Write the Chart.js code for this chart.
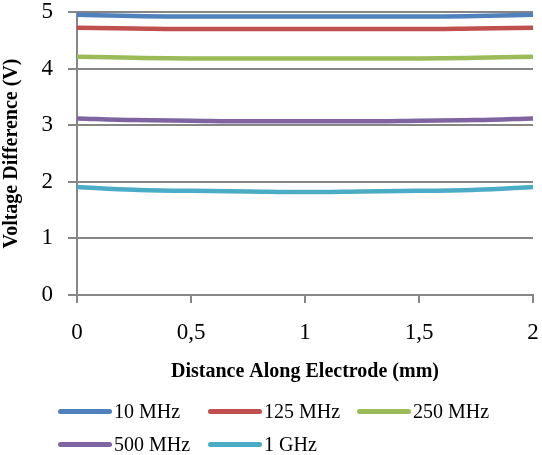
<!DOCTYPE html>
<html>
<head>
<meta charset="utf-8">
<script src="https://cdn.jsdelivr.net/npm/chart.js@4/dist/chart.umd.min.js"></script>
<style>
  html, body { margin: 0; padding: 0; background: #fff; }
  #wrap { position: relative; width: 542px; height: 455px; }
  #chartCanvas { position: absolute; left: 0; top: 0; }
  #legend { position: absolute; left: 58px; top: 399px; width: 480px;
            display: grid; grid-template-columns: 150px 149px 149px; row-gap: 9px;
            font-family: "Liberation Serif", "Times New Roman", serif; font-size: 20px; color: #000; }
  .item { display: flex; align-items: center; height: 24px; white-space: nowrap; }
  .swatch { width: 54px; height: 5px; border-radius: 3px; margin-right: 2px; }
</style>
</head>
<body>
<div id="wrap">
  <canvas id="chartCanvas" width="542" height="400"></canvas>
  <div id="legend"></div>
</div>
<script>
// values
var distance = [0, 0.25, 0.5, 0.75, 1, 1.25, 1.5, 1.75, 2];
var seriesNames = ['10 MHz', '125 MHz', '250 MHz', '500 MHz', '1 GHz'];
var v10MHz  = [4.95, 4.93, 4.92, 4.92, 4.92, 4.92, 4.92, 4.93, 4.95];
var v125MHz = [4.72, 4.71, 4.70, 4.70, 4.70, 4.70, 4.70, 4.71, 4.72];
var v250MHz = [4.21, 4.19, 4.18, 4.18, 4.18, 4.18, 4.18, 4.19, 4.21];
var v500MHz = [3.12, 3.09, 3.08, 3.07, 3.07, 3.07, 3.08, 3.09, 3.12];
var v1GHz   = [1.91, 1.86, 1.84, 1.83, 1.82, 1.83, 1.84, 1.86, 1.91];
var yTicks = [0, 1, 2, 3, 4, 5];
var xTicks = [0, 0.5, 1, 1.5, 2];

var colors = ['#4f81bd', '#c0504d', '#9bbb59', '#8064a2', '#4bacc6'];
var allValues = [v10MHz, v125MHz, v250MHz, v500MHz, v1GHz];
var gridGray = '#868686';
var serif = '"Liberation Serif", "Times New Roman", serif';

var datasets = [];
for (var i = 0; i < seriesNames.length; i++) {
    var pts = [];
    for (var j = 0; j < distance.length; j++) {
        pts.push({x: distance[j], y: allValues[i][j]});
    }
    datasets.push({
        label: seriesNames[i],
        data: pts,
        borderColor: colors[i],
        backgroundColor: colors[i],
        borderWidth: 4.5,
        pointRadius: 0,
        tension: 0.4,
        cubicInterpolationMode: 'monotone',
        fill: false
    });
}

var chart = new Chart(document.getElementById('chartCanvas'), {
    type: 'line',
    data: { datasets: datasets },
    options: {
        responsive: false,
        animation: false,
        layout: { padding: { top: 12, right: 9, bottom: 14, left: 0 } },
        plugins: { legend: { display: false }, tooltip: { enabled: false } },
        scales: {
            x: {
                type: 'linear', min: 0, max: 2,
                afterBuildTicks: function (s) { s.ticks = xTicks.map(function (v) { return {value: v}; }); },
                afterFit: function (s) {
                    s.height = 91;
                    // the end labels may overhang, plot edges are fixed by layout padding
                    s.paddingLeft = 0; s.paddingRight = 0;
                },
                grid: { drawOnChartArea: false, drawTicks: true, tickLength: 8, color: gridGray, lineWidth: 2 },
                border: { display: true, color: gridGray, width: 2 },
                ticks: {
                    padding: 18, color: '#000',
                    font: { family: serif, size: 23, lineHeight: 1 },
                    callback: function (v) { return String(v).replace('.', ','); }
                },
                title: {
                    display: true, text: 'Distance Along Electrode (mm)', color: '#000',
                    font: { family: serif, size: 20, weight: 'bold' }, padding: { top: 0, bottom: 2 }
                }
            },
            y: {
                min: 0, max: 5,
                afterBuildTicks: function (s) { s.ticks = yTicks.map(function (v) { return {value: v}; }); },
                afterFit: function (s) {
                    s.width = 77;
                    s.paddingTop = 0; s.paddingBottom = 0;
                },
                grid: { drawTicks: true, tickLength: 9, color: gridGray, lineWidth: 2 },
                border: { display: true, color: gridGray, width: 2 },
                ticks: { padding: 15, color: '#000', font: { family: serif, size: 23, lineHeight: 1 } },
                title: {
                    display: true, text: 'Voltage Difference (V)', color: '#000',
                    font: { family: serif, size: 20, weight: 'bold' }, padding: { top: 0, bottom: 3 }
                }
            }
        }
    }
});

// legend as a fixed grid, like the source image
var legendBox = document.getElementById('legend');
chart.data.datasets.forEach(function (ds) {
    var item = document.createElement('div');
    item.className = 'item';
    var sw = document.createElement('span');
    sw.className = 'swatch';
    sw.style.background = ds.borderColor;
    item.appendChild(sw);
    item.appendChild(document.createTextNode(ds.label));
    legendBox.appendChild(item);
});
</script>
</body>
</html>
